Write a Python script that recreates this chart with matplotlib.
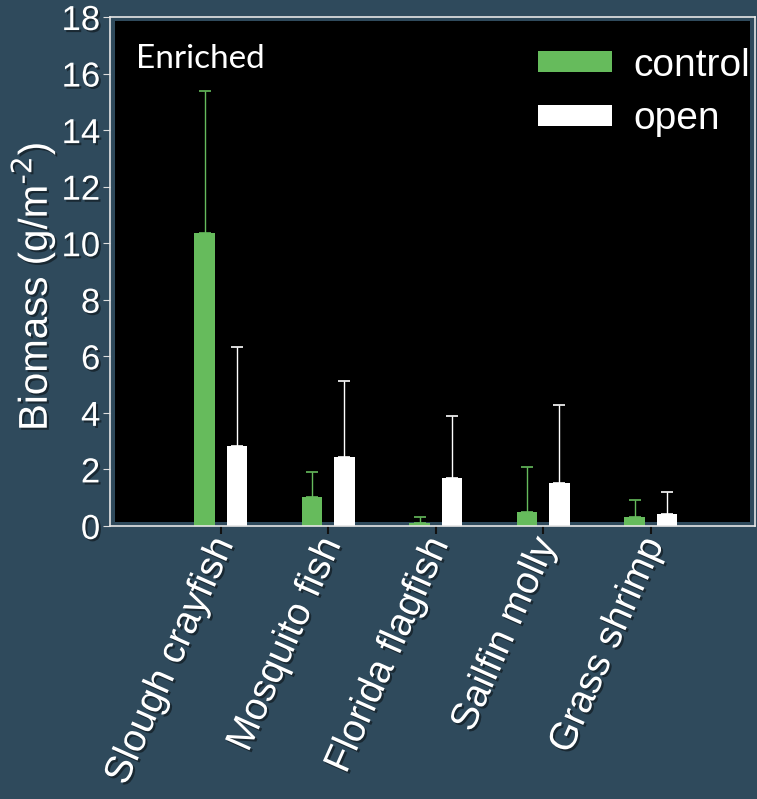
import numpy as np
import matplotlib
matplotlib.use('Agg')
from matplotlib import pyplot as plt
from matplotlib.patches import Rectangle
import matplotlib.patheffects as pe
import matplotlib.transforms as mtransforms

# data
species = ['Slough crayfish', 'Mosquito fish', 'Florida flagfish', 'Sailfin molly', 'Grass shrimp']
control = [10.37, 1.02, 0.10, 0.50, 0.31]
control_err = [5.03, 0.88, 0.23, 1.60, 0.61]
open_ = [2.83, 2.44, 1.70, 1.51, 0.44]
open_err = [3.51, 2.69, 2.19, 2.77, 0.76]

bg = '#2f4a5c'
green = '#66bb5c'
plt.rcParams['font.family'] = ['Liberation Sans', 'DejaVu Sans']
shadow = [pe.withSimplePatchShadow(offset=(1.5, -1.5), shadow_rgbFace='black', alpha=0.45)]

fig = plt.figure(figsize=(7.57, 7.99), dpi=100, facecolor=bg)
ax = fig.add_axes([0.1453, 0.3417, 0.852, 0.637])
ax.set_facecolor(bg)
ax.add_patch(Rectangle((0.008, 0.008), 0.984, 0.984, transform=ax.transAxes,
                       facecolor='black', edgecolor='none', zorder=0))

x = np.arange(len(species))
w = 0.19
ax.bar(x - 0.15, control, w, color=green, label='control', zorder=2,
       yerr=[np.zeros(len(x)), control_err], ecolor=green,
       error_kw=dict(capsize=4.5, elinewidth=1.0, capthick=1.2))
ax.bar(x + 0.15, open_, w, color='white', label='open', zorder=2,
       yerr=[np.zeros(len(x)), open_err], ecolor='white',
       error_kw=dict(capsize=4.5, elinewidth=1.0, capthick=1.2))

ax.set_xlim(-1.03, 4.97)
ax.set_ylim(0, 18)
ax.set_yticks(range(0, 19, 2))
ax.set_xticks(x)
ax.set_xticklabels(species, rotation=66, ha='right', va='center',
                   rotation_mode='anchor', fontsize=28, color='white')
ax.tick_params(axis='y', colors='#dddddd', labelcolor='white', labelsize=25,
               length=5, direction='out', pad=2)
ax.tick_params(axis='x', color='#111111', length=6, width=1.5, pad=4)
shift = mtransforms.ScaledTranslation(4 / 100, 0, fig.dpi_scale_trans)
for lab in ax.get_xticklabels():
    lab.set_transform(lab.get_transform() + shift)
for lab in ax.get_xticklabels() + ax.get_yticklabels():
    lab.set_path_effects(shadow)
for s in ax.spines.values():
    s.set_color('#e6e6e6')
    s.set_linewidth(1.2)

ax.set_ylabel('Biomass (g/m$^{\\text{-}2}$)', fontsize=29, color='white',
              labelpad=0, path_effects=shadow)
ax.yaxis.set_label_coords(-0.082, 0.47)

ax.text(0.04, 0.917, 'Enriched', transform=ax.transAxes, fontsize=24,
        color='white', family=['Lato', 'DejaVu Sans'], va='center')

leg = ax.legend(loc='upper right', frameon=False, fontsize=28,
                handlelength=1.9, handleheight=0.46, labelcolor='white',
                bbox_to_anchor=(1.022, 0.978), borderaxespad=0.0, borderpad=0.5,
                labelspacing=0.45, handletextpad=0.55)

plt.savefig('out.png', facecolor=bg)
